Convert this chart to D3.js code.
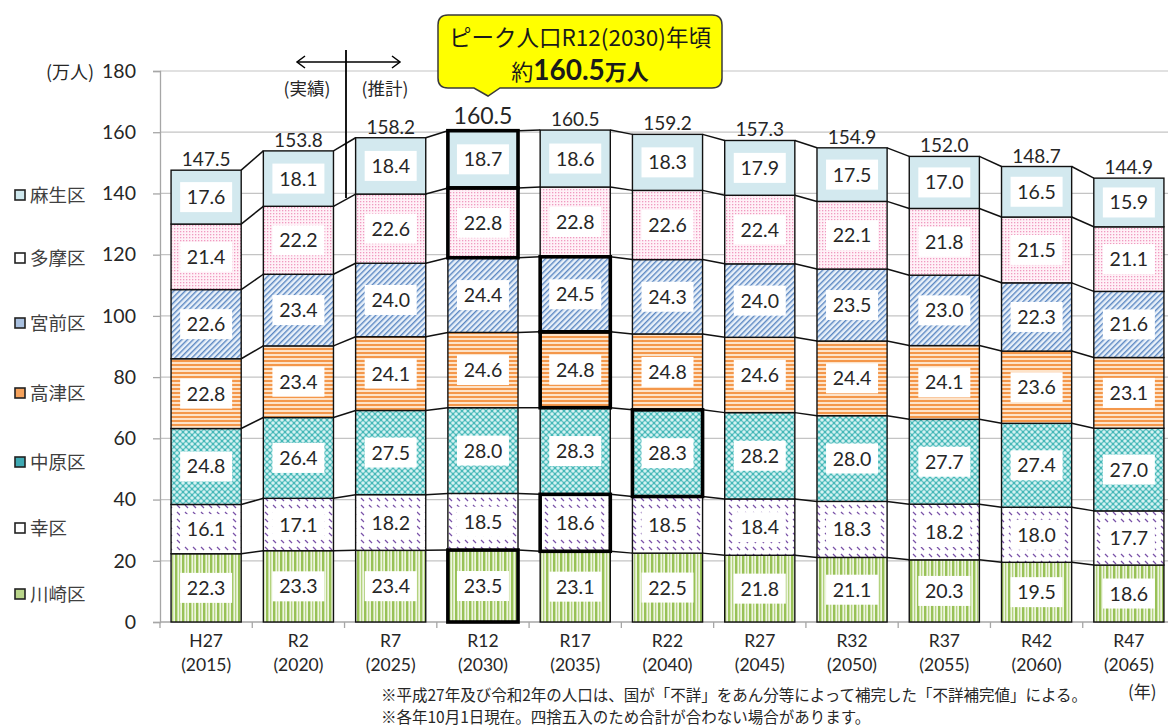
<!DOCTYPE html>
<html><head><meta charset="utf-8">
<script src="https://cdn.jsdelivr.net/npm/d3@7/dist/d3.min.js"></script>
<style>body{margin:0;background:#fff}svg{display:block}</style>
</head><body>
<svg id="c" width="1168" height="727"></svg>
<script>
// ---------- data ----------
const categories = ["H27","R2","R7","R12","R17","R22","R27","R32","R37","R42","R47"];
const yearLabels = ["(2015)","(2020)","(2025)","(2030)","(2035)","(2040)","(2045)","(2050)","(2055)","(2060)","(2065)"];
const seriesNames = ["川崎区","幸区","中原区","高津区","宮前区","多摩区","麻生区"];
const kawasaki  = [22.3,23.3,23.4,23.5,23.1,22.5,21.8,21.1,20.3,19.5,18.6];
const saiwai    = [16.1,17.1,18.2,18.5,18.6,18.5,18.4,18.3,18.2,18.0,17.7];
const nakahara  = [24.8,26.4,27.5,28.0,28.3,28.3,28.2,28.0,27.7,27.4,27.0];
const takatsu   = [22.8,23.4,24.1,24.6,24.8,24.8,24.6,24.4,24.1,23.6,23.1];
const miyamae   = [22.6,23.4,24.0,24.4,24.5,24.3,24.0,23.5,23.0,22.3,21.6];
const tama      = [21.4,22.2,22.6,22.8,22.8,22.6,22.4,22.1,21.8,21.5,21.1];
const asao      = [17.6,18.1,18.4,18.7,18.6,18.3,17.9,17.5,17.0,16.5,15.9];
const totals    = [147.5,153.8,158.2,160.5,160.5,159.2,157.3,154.9,152.0,148.7,144.9];
const yTicks    = [0,20,40,60,80,100,120,140,160,180];
// highlighted segments: [category, series]
const highlighted = [["R12","川崎区"],["R12","多摩区"],["R12","麻生区"],["R17","幸区"],["R17","高津区"],["R17","宮前区"],["R22","中原区"]];
const peakCategory = "R12";

const seriesValues = [kawasaki,saiwai,nakahara,takatsu,miyamae,tama,asao];
const rows = categories.map((c,i)=>{const o={cat:c}; seriesNames.forEach((s,k)=>o[s]=seriesValues[k][i]); return o;});

// ---------- setup ----------
const svg = d3.select("#c");
const NUM = "Lato, 'Noto Sans CJK JP', sans-serif";
const JP = "'Noto Sans CJK JP', sans-serif";
const x = d3.scaleBand().domain(categories).range([160,1175]).paddingInner(0.24).paddingOuter(0.12);
const y = d3.scaleLinear().domain([0,180]).range([622,71]);
const bw = x.bandwidth();

// ---------- patterns ----------
const defs = svg.append("defs");
function pat(id,w,h,build,tr){const p=defs.append("pattern").attr("id",id).attr("patternUnits","userSpaceOnUse").attr("width",w).attr("height",h); if(tr)p.attr("patternTransform",tr); build(p);}
pat("p0",7,7,p=>{p.append("rect").attr("width",7).attr("height",7).attr("fill","#eef5e0");
  p.append("rect").attr("x",0).attr("width",2.4).attr("height",7).attr("fill","#98c156");
  p.append("rect").attr("x",4).attr("width",1.3).attr("height",7).attr("fill","#b3d37e");});
pat("p1",8,7,p=>{p.append("rect").attr("width",8).attr("height",7).attr("fill","#ffffff");
  p.append("line").attr("x1",1).attr("y1",1).attr("x2",4).attr("y2",4).attr("stroke","#7a52a8").attr("stroke-width",1.3);});
pat("p2",6,6,p=>{p.append("rect").attr("width",6).attr("height",6).attr("fill","#45b8b8");
  [[0,0],[6,0],[0,6],[6,6],[3,3]].forEach(([a,b])=>p.append("circle").attr("cx",a).attr("cy",b).attr("r",1.8).attr("fill","#d4f2f2"));});
pat("p3",4,4,p=>{p.append("rect").attr("width",4).attr("height",4).attr("fill","#fde3c9");
  p.append("rect").attr("y",0).attr("width",4).attr("height",2).attr("fill","#f4974a");});
pat("p4",4,4,p=>{p.append("rect").attr("width",4).attr("height",4).attr("fill","#e8f0f9");
  p.append("rect").attr("x",0).attr("width",1.4).attr("height",4).attr("fill","#5b87c2");},"rotate(45)");
pat("p5",3,3,p=>{p.append("rect").attr("width",3).attr("height",3).attr("fill","#fff1f7");
  p.append("rect").attr("width",1.3).attr("height",1.3).attr("fill","#f09ac0");});
const fills = ["url(#p0)","url(#p1)","url(#p2)","url(#p3)","url(#p4)","url(#p5)","#d3e9ef"];
const legendFills = ["#b9d58a","#ffffff","#3fa9b3","#f5a25c","#a9c0df","#ffffff","#cfe8ee"];

// ---------- grid & axes ----------
svg.append("g").selectAll("line").data(yTicks.filter(t=>t>0)).join("line")
  .attr("x1",160).attr("x2",1168).attr("y1",d=>y(d)).attr("y2",d=>y(d))
  .attr("stroke","#c4c4c4").attr("stroke-width",1.2);

const yAxis = svg.append("g").attr("transform","translate(160,0)")
  .call(d3.axisLeft(y).tickValues(yTicks).tickSize(7).tickPadding(17).tickFormat(d3.format("d")));
yAxis.select(".domain").attr("stroke","#a6a6a6").attr("stroke-width",1.3);
yAxis.selectAll(".tick line").attr("stroke","#a6a6a6").attr("stroke-width",1.3);
yAxis.selectAll("text").attr("font-family",NUM).attr("font-size",19.5).attr("fill","#262626");

const xAxis = svg.append("g").attr("transform","translate(0,622)")
  .call(d3.axisBottom(x).tickSize(0).tickFormat(""));
xAxis.select(".domain").attr("stroke","#a6a6a6").attr("stroke-width",1.3).attr("d","M160,0H1168");
svg.append("g").selectAll("line").data(categories).join("line")
  .attr("x1",d=>x(d)-x.step()*0.12).attr("x2",d=>x(d)-x.step()*0.12)
  .attr("y1",622).attr("y2",628).attr("stroke","#a6a6a6").attr("stroke-width",1.3);

const xl = svg.append("g").attr("font-family",NUM).attr("font-size",17.5).attr("fill","#262626").attr("text-anchor","middle");
xl.selectAll("text.c").data(categories).join("text").attr("class","c")
  .attr("x",d=>x(d)+bw/2).attr("y",647).text(d=>d);
xl.selectAll("text.yr").data(yearLabels).join("text").attr("class","yr")
  .attr("x",(d,i)=>x(categories[i])+bw/2).attr("y",671).text(d=>d);

// ---------- stacked bars ----------
const stack = d3.stack().keys(seriesNames)(rows);
const segG = svg.append("g");
stack.forEach((layer,k)=>{
  segG.append("g").selectAll("rect").data(layer).join("rect")
    .attr("x",d=>x(d.data.cat)).attr("width",bw)
    .attr("y",d=>y(d[1])).attr("height",d=>y(d[0])-y(d[1]))
    .attr("fill",fills[k]).attr("stroke","#111").attr("stroke-width",1.4);
});
// value label boxes
stack.forEach((layer,k)=>{
  const g = svg.append("g");
  g.selectAll("rect").data(layer).join("rect")
    .attr("x",d=>x(d.data.cat)+bw/2-26).attr("y",d=>(y(d[0])+y(d[1]))/2-15)
    .attr("width",52).attr("height",30).attr("fill","#ffffff");
  g.selectAll("text").data(layer).join("text")
    .attr("x",d=>x(d.data.cat)+bw/2).attr("y",d=>(y(d[0])+y(d[1]))/2+7)
    .attr("text-anchor","middle").attr("font-family",NUM).attr("font-size",19.5).attr("fill","#262626")
    .text(d=>d3.format(".1f")(d.data[seriesNames[k]]));
});
// series lines
stack.forEach(layer=>{
  const segs = d3.pairs(layer);
  svg.append("g").selectAll("line").data(segs).join("line")
    .attr("x1",d=>x(d[0].data.cat)+bw).attr("y1",d=>y(d[0][1]))
    .attr("x2",d=>x(d[1].data.cat)).attr("y2",d=>y(d[1][1]))
    .attr("stroke","#111").attr("stroke-width",1.5);
});
// highlighted segments
svg.append("g").selectAll("rect").data(highlighted).join("rect")
  .attr("x",d=>x(d[0])).attr("width",bw)
  .attr("y",d=>{const k=seriesNames.indexOf(d[1]); const s=stack[k][categories.indexOf(d[0])]; return y(s[1]);})
  .attr("height",d=>{const k=seriesNames.indexOf(d[1]); const s=stack[k][categories.indexOf(d[0])]; return y(s[0])-y(s[1]);})
  .attr("fill","none").attr("stroke","#000").attr("stroke-width",3.6);

// totals
svg.append("g").selectAll("text").data(totals).join("text")
  .attr("x",(d,i)=>x(categories[i])+bw/2)
  .attr("y",(d,i)=>y(stack[6][i][1]) - (categories[i]===peakCategory?7:4))
  .attr("text-anchor","middle").attr("font-family",NUM)
  .attr("font-size",(d,i)=>categories[i]===peakCategory?23:19).attr("fill","#262626")
  .text(d=>d3.format(".1f")(d));

// ---------- legend ----------
const legendY = [594,528,462,393,323,258,195];
const lg = svg.append("g");
seriesNames.forEach((s,k)=>{
  lg.append("rect").attr("x",15).attr("y",legendY[k]-5).attr("width",10).attr("height",10)
    .attr("fill",legendFills[k]).attr("stroke","#222").attr("stroke-width",1.6);
  lg.append("text").attr("x",30).attr("y",legendY[k]+7).attr("font-family",JP).attr("font-size",18.5)
    .attr("fill","#404040").text(s);
});
svg.append("text").attr("x",46).attr("y",79).attr("font-family",JP).attr("font-size",18).attr("fill","#262626").text("(万人)");

// ---------- annotations ----------
svg.append("line").attr("x1",346).attr("x2",346).attr("y1",50).attr("y2",198).attr("stroke","#000").attr("stroke-width",1.8);
svg.append("line").attr("x1",297).attr("x2",400).attr("y1",62).attr("y2",62).attr("stroke","#000").attr("stroke-width",1.5);
svg.append("path").attr("d","M305,56L297,62L305,68M392,56L400,62L392,68").attr("fill","none").attr("stroke","#000").attr("stroke-width",1.5);
svg.append("text").attr("x",307).attr("y",95).attr("text-anchor","middle").attr("font-family",JP).attr("font-size",17.5).attr("fill","#262626").text("(実績)");
svg.append("text").attr("x",385).attr("y",95).attr("text-anchor","middle").attr("font-family",JP).attr("font-size",17.5).attr("fill","#262626").text("(推計)");

// callout
const cp = d3.path();
const L=438,R=722,T=15,B=88,r=10;
cp.moveTo(L+r,T); cp.lineTo(R-r,T); cp.quadraticCurveTo(R,T,R,T+r); cp.lineTo(R,B-r); cp.quadraticCurveTo(R,B,R-r,B);
cp.lineTo(500,B); cp.lineTo(488,96); cp.lineTo(474,B);
cp.lineTo(L+r,B); cp.quadraticCurveTo(L,B,L,B-r); cp.lineTo(L,T+r); cp.quadraticCurveTo(L,T,L+r,T); cp.closePath();
svg.append("path").attr("d",cp.toString()).attr("fill","#ffff00").attr("stroke","#3a3a3a").attr("stroke-width",1.5);
svg.append("text").attr("x",580).attr("y",46).attr("text-anchor","middle").attr("font-family",JP).attr("font-size",22.5).attr("fill","#1a1a1a").text("ピーク人口R12(2030)年頃");
const t2 = svg.append("text").attr("x",580).attr("y",80).attr("text-anchor","middle").attr("font-family",JP).attr("fill","#1a1a1a");
t2.append("tspan").attr("font-size",22).text("約");
t2.append("tspan").attr("font-size",28).attr("font-weight","bold").attr("font-family",NUM).text("160.5");
t2.append("tspan").attr("font-size",22).attr("font-weight","bold").text("万人");

// footnotes
const fn = svg.append("g").attr("font-family",JP).attr("font-size",15.5).attr("fill","#262626");
fn.append("text").attr("x",381).attr("y",701).text("※平成27年及び令和2年の人口は、国が「不詳」をあん分等によって補完した「不詳補完値」による。");
fn.append("text").attr("x",381).attr("y",723).text("※各年10月1日現在。四捨五入のため合計が合わない場合があります。");
svg.append("text").attr("x",1128).attr("y",698).attr("font-family",JP).attr("font-size",17).attr("fill","#262626").text("(年)");
</script>
</body></html>
